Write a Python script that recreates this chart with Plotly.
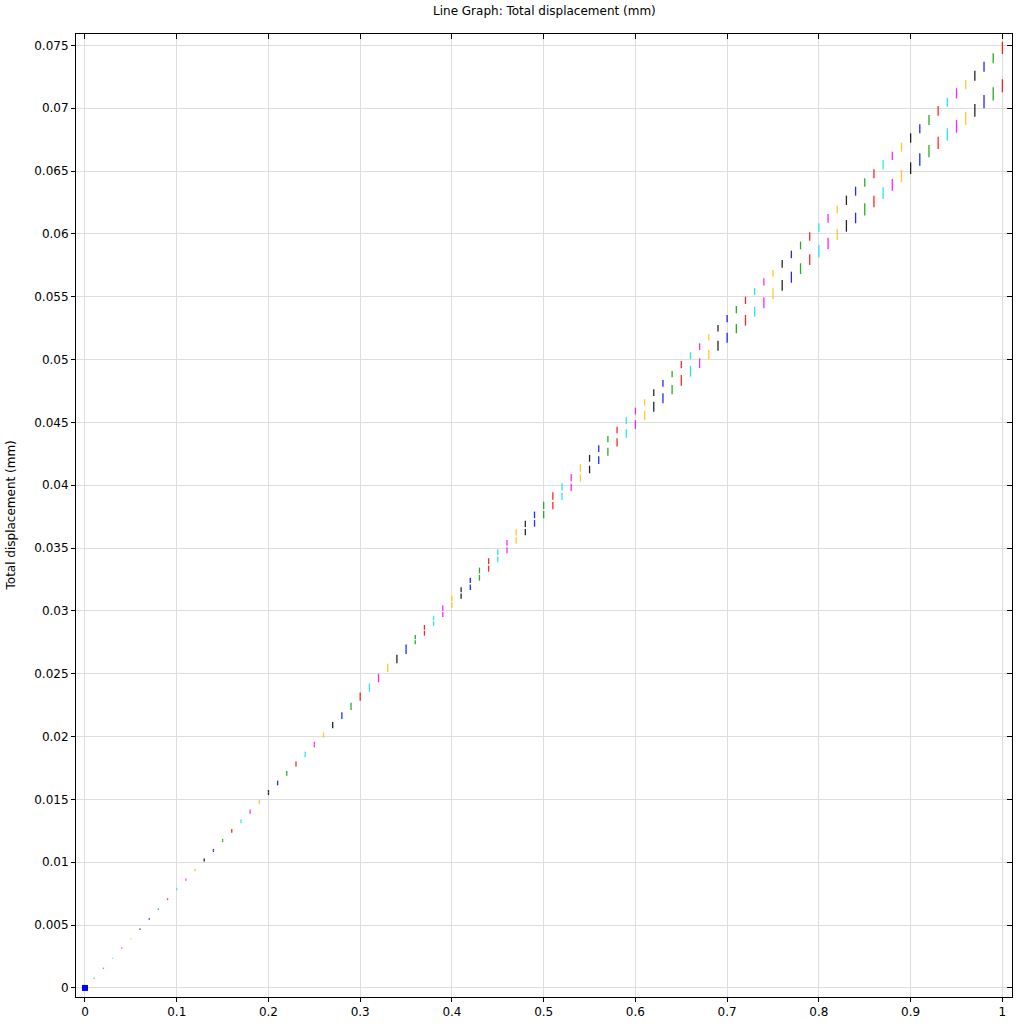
import plotly.graph_objects as go

# x positions (parameter values)
x_vals = [0.00, 0.01, 0.02, 0.03, 0.04, 0.05, 0.06, 0.07, 0.08, 0.09,
          0.10, 0.11, 0.12, 0.13, 0.14, 0.15, 0.16, 0.17, 0.18, 0.19,
          0.20, 0.21, 0.22, 0.23, 0.24, 0.25, 0.26, 0.27, 0.28, 0.29,
          0.30, 0.31, 0.32, 0.33, 0.34, 0.35, 0.36, 0.37, 0.38, 0.39,
          0.40, 0.41, 0.42, 0.43, 0.44, 0.45, 0.46, 0.47, 0.48, 0.49,
          0.50, 0.51, 0.52, 0.53, 0.54, 0.55, 0.56, 0.57, 0.58, 0.59,
          0.60, 0.61, 0.62, 0.63, 0.64, 0.65, 0.66, 0.67, 0.68, 0.69,
          0.70, 0.71, 0.72, 0.73, 0.74, 0.75, 0.76, 0.77, 0.78, 0.79,
          0.80, 0.81, 0.82, 0.83, 0.84, 0.85, 0.86, 0.87, 0.88, 0.89,
          0.90, 0.91, 0.92, 0.93, 0.94, 0.95, 0.96, 0.97, 0.98, 0.99,
          1.00]

# Total displacement (mm): lower branch segment bottom/top, upper branch segment bottom/top
lower_bottom = [0.0, .00073, .00153, .00232, .00311, .00387, .00464, .00543, .00620, .00699,
                .00777, .00853, .00929, .01007, .01082, .01160, .01234, .01310, .01387, .01463,
                .01535, .01612, .01689, .01762, .01836, .01915, .01993, .02067, .02139, .02212,
                .02286, .02357, .02433, .02513, .02584, .02657, .02735, .02803, .02880, .02952,
                .03026, .03097, .03167, .03241, .03312, .03387, .03459, .03535, .03602, .03670,
                .03737, .03809, .03883, .03954, .04028, .04095, .04169, .04235, .04307, .04378,
                .04447, .04519, .04585, .04652, .04723, .04792, .04864, .04933, .05002, .05070,
                .05134, .05209, .05269, .05341, .05408, .05479, .05548, .05611, .05681, .05752,
                .05814, .05880, .05951, .06017, .06084, .06145, .06211, .06277, .06343, .06410,
                .06476, .06542, .06609, .06675, .06741, .06805, .06866, .06932, .06999, .07060,
                .07126]
lower_top = [0.0, .00077, .00157, .00236, .00316, .00392, .00469, .00549, .00626, .00706,
             .00785, .00862, .00939, .01018, .01094, .01173, .01249, .01325, .01403, .01480,
             .01555, .01631, .01708, .01782, .01858, .01937, .02013, .02092, .02166, .02241,
             .02318, .02390, .02466, .02546, .02618, .02695, .02767, .02842, .02917, .02992,
             .03068, .03138, .03211, .03286, .03360, .03433, .03504, .03585, .03652, .03722,
             .03795, .03867, .03940, .04012, .04086, .04155, .04230, .04299, .04373, .04445,
             .04519, .04593, .04665, .04731, .04797, .04877, .04949, .05010, .05076, .05150,
             .05214, .05283, .05354, .05420, .05495, .05567, .05633, .05699, .05766, .05837,
             .05911, .05969, .06039, .06110, .06168, .06243, .06304, .06370, .06436, .06508,
             .06569, .06641, .06707, .06773, .06840, .06906, .06972, .07033, .07105, .07166,
             .07230]
upper_bottom = [0.0, .00077, .00157, .00236, .00316, .00392, .00469, .00549, .00626, .00706,
                .00785, .00862, .00939, .01018, .01094, .01173, .01249, .01325, .01403, .01480,
                .01555, .01631, .01708, .01782, .01858, .01937, .02013, .02092, .02166, .02241,
                .02318, .02390, .02466, .02546, .02618, .02695, .02775, .02850, .02925, .03002,
                .03078, .03148, .03221, .03298, .03372, .03445, .03518, .03599, .03668, .03738,
                .03811, .03885, .03958, .04032, .04108, .04187, .04264, .04342, .04413, .04487,
                .04564, .04633, .04710, .04784, .04859, .04930, .05002, .05076, .05150, .05222,
                .05296, .05368, .05442, .05514, .05588, .05659, .05731, .05806, .05877, .05946,
                .06017, .06089, .06164, .06230, .06304, .06375, .06442, .06514, .06588, .06654,
                .06725, .06800, .06866, .06940, .07012, .07078, .07150, .07219, .07290, .07357,
                .07431]
upper_top = [0.0, .00081, .00161, .00240, .00321, .00397, .00474, .00555, .00632, .00713,
             .00793, .00871, .00949, .01029, .01106, .01186, .01264, .01340, .01419, .01497,
             .01575, .01650, .01727, .01802, .01880, .01959, .02033, .02117, .02193, .02270,
             .02350, .02423, .02499, .02579, .02652, .02733, .02808, .02888, .02962, .03042,
             .03121, .03188, .03264, .03344, .03419, .03490, .03564, .03649, .03718, .03790,
             .03869, .03944, .04015, .04089, .04167, .04241, .04318, .04392, .04466, .04541,
             .04617, .04684, .04763, .04837, .04909, .04988, .05058, .05129, .05201, .05275,
             .05354, .05426, .05500, .05569, .05646, .05713, .05792, .05866, .05938, .06012,
             .06084, .06158, .06224, .06304, .06375, .06442, .06514, .06588, .06654, .06725,
             .06800, .06872, .06946, .07017, .07083, .07158, .07224, .07298, .07370, .07437,
             .07529]

color_cycle = ["#0000ff", "#00a000", "#ff0000", "#00e5ee", "#ff00ff", "#ffbf00", "#000000"]

x_tickvals = [0, 0.1, 0.2, 0.3, 0.4, 0.5, 0.6, 0.7, 0.8, 0.9, 1.0]
x_ticktext = ["0", "0.1", "0.2", "0.3", "0.4", "0.5", "0.6", "0.7", "0.8", "0.9", "1"]
y_tickvals = [0, 0.005, 0.01, 0.015, 0.02, 0.025, 0.03, 0.035, 0.04, 0.045,
              0.05, 0.055, 0.06, 0.065, 0.07, 0.075]
y_ticktext = ["0", "0.005", "0.01", "0.015", "0.02", "0.025", "0.03", "0.035", "0.04", "0.045",
              "0.05", "0.055", "0.06", "0.065", "0.07", "0.075"]

title_text = "Line Graph: Total displacement (mm)"
y_title = "Total displacement (mm)"

fig = go.Figure()

# group segments by color
for ci, col in enumerate(color_cycle):
    xs, ys = [], []
    for i, xv in enumerate(x_vals):
        if i % len(color_cycle) != ci or i == 0:
            continue
        xs += [xv, xv, None, xv, xv, None]
        ys += [lower_bottom[i], lower_top[i], None, upper_bottom[i], upper_top[i], None]
    fig.add_trace(go.Scatter(x=xs, y=ys, mode="lines", line=dict(color=col, width=1.3),
                             opacity=0.85, hoverinfo="skip", showlegend=False,
                             connectgaps=False))

# first parameter value collapses to a single point
fig.add_trace(go.Scatter(x=[x_vals[0]], y=[lower_bottom[0]], mode="markers",
                         marker=dict(symbol="square", size=6, color=color_cycle[0]),
                         showlegend=False, hoverinfo="skip"))

# helper trace for mirrored inside ticks (top / right)
fig.add_trace(go.Scatter(x=[None], y=[None], xaxis="x2", yaxis="y2", showlegend=False,
                         hoverinfo="skip"))

xr = [-0.0098, 1.0105]
yr = [-0.00072, 0.0759]
font = dict(family="DejaVu Sans", size=12, color="black")

fig.update_layout(
    template="none",
    width=1024, height=1024,
    margin=dict(l=76, r=12, t=34, b=27, pad=0),
    paper_bgcolor="white", plot_bgcolor="white",
    font=font,
    showlegend=False,
    xaxis=dict(range=xr, tickvals=x_tickvals, ticktext=x_ticktext, ticks="outside",
               ticklen=4, tickcolor="black", showline=True, linecolor="black", linewidth=1,
               mirror=True, showgrid=True, gridcolor="#dedede", gridwidth=1, zeroline=False,
               tickfont=font, automargin=False),
    yaxis=dict(range=yr, tickvals=y_tickvals, ticktext=y_ticktext, ticks="outside",
               ticklen=4, tickcolor="black", showline=True, linecolor="black", linewidth=1,
               mirror=True, showgrid=True, gridcolor="#dedede", gridwidth=1, zeroline=False,
               tickfont=font, automargin=False),
    xaxis2=dict(range=xr, overlaying="x", side="top", tickvals=x_tickvals, ticks="inside",
                ticklen=5, tickcolor="black", showticklabels=False, showgrid=False,
                zeroline=False, showline=False, automargin=False),
    yaxis2=dict(range=yr, overlaying="y", side="right", tickvals=y_tickvals, ticks="inside",
                ticklen=5, tickcolor="black", showticklabels=False, showgrid=False,
                zeroline=False, showline=False, automargin=False),
    annotations=[
        dict(text=title_text, x=0.5, y=1, xref="paper", yref="paper", xanchor="center",
             yanchor="bottom", yshift=14, showarrow=False, font=font),
        dict(text=y_title, x=0, y=0.5, xref="paper", yref="paper", xanchor="center",
             yanchor="middle", xshift=-66, textangle=-90, showarrow=False, font=font),
    ],
)

fig.write_html("out.html", config={"displayModeBar": False},
               post_script="document.body.style.margin='0';document.body.style.overflow='hidden';")
